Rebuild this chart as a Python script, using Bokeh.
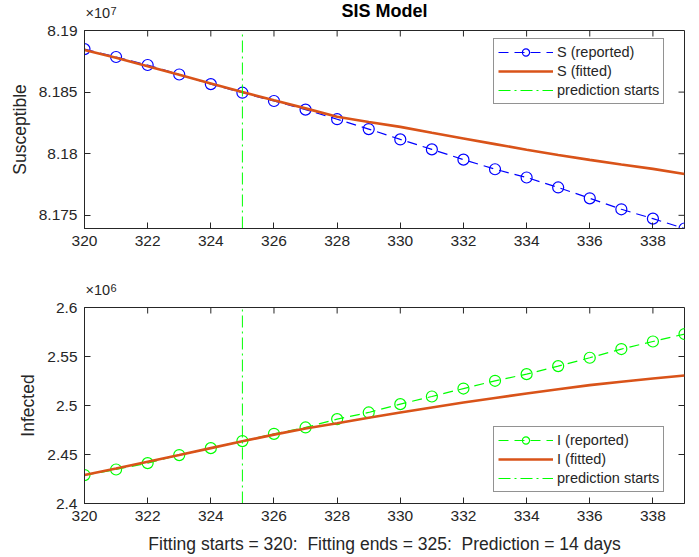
from bokeh.plotting import figure
from bokeh.models import (FixedTicker, CustomJSTickFormatter, Label,
                          Range1d, Legend, LegendItem)
from bokeh.layouts import column
from bokeh.embed import file_html
from bokeh.resources import INLINE

# ---------------- data ----------------
days = list(range(320, 340))

s_reported = [81884900, 81878500, 81872000, 81864300, 81856500, 81849500, 81842800,
              81835800, 81828000, 81820000, 81811600, 81803500, 81795200, 81787400,
              81780700, 81772600, 81763800, 81754900, 81747300, 81739300]
s_fitted = [81884200, 81877800, 81871000, 81864000, 81857000, 81850000, 81843300,
            81836800, 81830000, 81825800, 81821800, 81817000, 81812400, 81807800,
            81803200, 81799000, 81795000, 81791200, 81787700, 81783600]

i_reported = [2429000, 2434700, 2441200, 2449400, 2456500, 2463700, 2471100,
              2477600, 2486100, 2492900, 2501400, 2509200, 2517300, 2525200,
              2532000, 2540200, 2548700, 2557600, 2565300, 2572900]
i_fitted = [2429000, 2435800, 2442700, 2449500, 2456500, 2463500, 2470300,
            2476500, 2481800, 2487500, 2492900, 2498000, 2503100, 2507700,
            2512200, 2516500, 2520800, 2524300, 2527600, 2530600]

pred_start = 325
x_limits = [320, 339]
x_ticks = [320, 322, 324, 326, 328, 330, 332, 334, 336, 338]
s_limits = [81739300, 81900000]
s_ticks = [81750000, 81800000, 81850000, 81900000]
i_limits = [2400000, 2600000]
i_ticks = [2400000, 2450000, 2500000, 2550000, 2600000]

FONT = "Liberation Sans"
AX = "#262626"
BLUE = "#0000ff"
GREEN = "#00ff00"
ORANGE = "#d95319"


def make_header(h, exp, title=None):
    p = figure(frame_width=600, frame_height=h, x_range=Range1d(*x_limits),
               y_range=Range1d(0, 1), x_axis_type=None, y_axis_type=None,
               output_backend="svg", toolbar_location=None, title_location=None,
               min_border_left=84, min_border_right=15, min_border_top=0,
               min_border_bottom=0, outline_line_color=None,
               background_fill_color="white", border_fill_color="white")
    p.grid.visible = False
    p.add_layout(Label(x=1, y=1, x_units="screen", y_units="screen",
                       text="\u00d710", text_font=FONT, text_font_size="14.5px",
                       text_color=AX, text_baseline="bottom"))
    p.add_layout(Label(x=26, y=7, x_units="screen", y_units="screen",
                       text=exp, text_font=FONT, text_font_size="11px",
                       text_color=AX, text_baseline="bottom"))
    if title:
        p.add_layout(Label(x=300, y=1, x_units="screen", y_units="screen",
                           text=title, text_font=FONT, text_font_size="18px",
                           text_font_style="bold", text_color="black",
                           text_align="center", text_baseline="bottom"))
    return p


def make_fig(ylim, yticks, scale, fh, bottom, ylabel, xlabel=None):
    p = figure(frame_width=600, frame_height=fh,
               x_range=Range1d(*x_limits), y_range=Range1d(*ylim),
               output_backend="svg", toolbar_location=None, title_location=None,
               min_border_left=84, min_border_right=15,
               min_border_top=9, min_border_bottom=bottom,
               background_fill_color="white", border_fill_color="white")
    p.grid.visible = False
    p.outline_line_color = AX
    p.outline_line_width = 1

    fmt = CustomJSTickFormatter(args=dict(s=scale),
                                code="return String(Math.round(tick / s * 1e6) / 1e6);")
    p.xaxis.ticker = FixedTicker(ticks=x_ticks)
    p.yaxis.ticker = FixedTicker(ticks=yticks)
    p.yaxis.formatter = fmt
    for ax in list(p.xaxis) + list(p.yaxis):
        ax.major_tick_in = 6
        ax.major_tick_out = 0
        ax.minor_tick_in = 0
        ax.minor_tick_out = 0
        ax.axis_line_color = AX
        ax.major_tick_line_color = AX
        ax.major_label_text_font = FONT
        ax.major_label_text_font_size = "15.5px"
        ax.major_label_text_color = AX
        ax.major_label_standoff = 7
        ax.axis_label_text_font = FONT
        ax.axis_label_text_font_size = "17.5px"
        ax.axis_label_text_font_style = "normal"
        ax.axis_label_text_color = AX
    p.yaxis.axis_label = ylabel
    p.yaxis.axis_label_standoff = 6
    if xlabel:
        p.xaxis.axis_label = xlabel
        p.xaxis.axis_label_standoff = 10

    # mirrored inward ticks on top and right edges
    p.ray(x=x_ticks, y=[ylim[1]] * len(x_ticks), length=6, length_units="screen",
          angle=-90, angle_units="deg", line_color=AX, line_width=1)
    p.ray(x=[x_limits[1]] * len(yticks), y=yticks, length=6, length_units="screen",
          angle=180, angle_units="deg", line_color=AX, line_width=1)
    return p


def add_series(p, rep, fit, col, name, ylim, legend_y):
    r1 = p.line(days, rep, line_color=col, line_width=1.2, line_dash="10 6")
    r2 = p.scatter(days, rep, marker="circle", size=11, fill_color=None,
                   line_color=col, line_width=1.2)
    r3 = p.line(days, fit, line_color=ORANGE, line_width=2.6)
    r4 = p.line([pred_start, pred_start], ylim, line_color=GREEN, line_width=1,
                line_dash="12 4 2 4")
    leg = Legend(items=[
        LegendItem(label=f"{name} (reported)", renderers=[r1, r2]),
        LegendItem(label=f"{name} (fitted)", renderers=[r3]),
        LegendItem(label="prediction starts", renderers=[r4]),
    ])
    leg.location = (409, legend_y)
    leg.label_text_font = FONT
    leg.label_text_font_size = "14.5px"
    leg.label_text_color = AX
    leg.label_height = 18
    leg.glyph_height = 18
    leg.glyph_width = 55
    leg.label_standoff = 4
    leg.spacing = 1
    leg.padding = 4
    leg.margin = 0
    leg.border_line_color = AX
    leg.border_line_width = 1
    leg.background_fill_color = "white"
    leg.background_fill_alpha = 1
    p.add_layout(leg)


h1 = make_header(21, "7", "SIS Model")
p1 = make_fig(s_limits, s_ticks, 1e7, 198, 42, "Susceptible")
add_series(p1, s_reported, s_fitted, BLUE, "S", s_limits, 124)

h2 = make_header(28, "6")
p2 = make_fig(i_limits, i_ticks, 1e6, 196, 52, "Infected",
              xlabel="Fitting starts = 320: \u00a0Fitting ends = 325: \u00a0Prediction = 14 days")
add_series(p2, i_reported, i_fitted, GREEN, "I", i_limits, 11)

layout = column(h1, p1, h2, p2, spacing=0)
open("out.html", "w").write(file_html(layout, INLINE))
